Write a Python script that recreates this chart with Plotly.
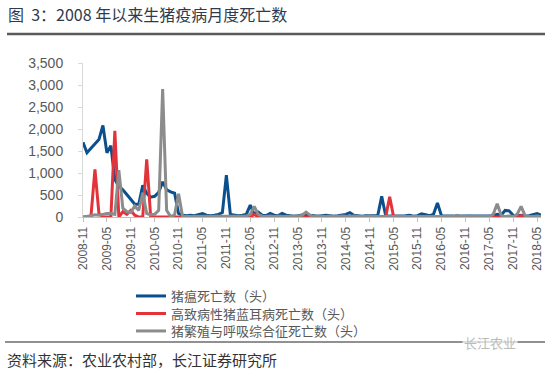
import plotly.graph_objects as go

# ---- data ----
months = []
y, m = 2008, 11
for _ in range(116):
    months.append(f"{y}-{m:02d}")
    m += 1
    if m > 12:
        m = 1
        y += 1

tick_labels = months[::6]

swine_fever = [
    1700, 1460, 1560, 1650, 1760, 2080, 1460, 1620, 850, 700,
    620, 510, 400, 290, 290, 720, 540, 450, 470, 560,
    800, 620, 570, 540, 80, 40, 30, 40, 30, 50,
    80, 40, 30, 40, 60, 100, 950, 60, 40, 30,
    40, 60, 270, 60, 110, 40, 30, 80, 40, 30,
    80, 40, 30, 20, 30, 40, 60, 40, 30, 20,
    30, 40, 30, 20, 30, 40, 60, 100, 40, 30,
    20, 30, 30, 20, 30, 470, 30, 20, 20, 30,
    20, 30, 40, 20, 30, 70, 50, 30, 60, 320,
    30, 20, 20, 20, 30, 20, 20, 20, 20, 20,
    30, 20, 20, 30, 60, 40, 150, 140, 40, 30,
    40, 20, 30, 60, 80, 40,
]

prrs_high = [
    0, 0, 20, 1080, 80, 0, 0, 0, 1960, 0,
    120, 60, 150, 40, 0, 0, 1310, 0, 0, 0,
    0, 0, 0, 0, 0, 0, 0, 0, 0, 0,
    0, 0, 0, 0, 0, 0, 0, 0, 0, 0,
    0, 0, 0, 60, 0, 0, 0, 0, 0, 0,
    0, 0, 0, 0, 0, 0, 0, 0, 0, 0,
    0, 0, 0, 0, 0, 0, 0, 0, 0, 0,
    0, 0, 0, 0, 0, 0, 0, 460, 0, 0,
    0, 0, 0, 0, 0, 0, 0, 0, 0, 0,
    0, 0, 0, 0, 0, 0, 0, 0, 0, 0,
    0, 0, 0, 0, 0, 0, 0, 0, 0, 0,
    30, 0, 0, 0, 0, 0,
]

prrs = [
    0, 10, 30, 50, 40, 60, 80, 80, 60, 1065,
    200, 120, 100, 250, 150, 550, 80, 50, 60, 150,
    2910, 150, 10, 50, 530, 10, 10, 10, 20, 10,
    10, 20, 10, 10, 20, 10, 20, 10, 10, 20,
    10, 20, 60, 240, 60, 20, 10, 20, 10, 20,
    10, 10, 20, 10, 20, 40, 110, 40, 10, 20,
    10, 10, 20, 10, 10, 20, 10, 10, 20, 10,
    10, 10, 20, 10, 10, 10, 20, 10, 10, 20,
    10, 10, 20, 10, 10, 10, 10, 20, 10, 10,
    20, 10, 10, 10, 40, 10, 10, 30, 10, 10,
    10, 20, 10, 60, 300, 40, 10, 20, 10, 60,
    240, 30, 10, 10, 20, 10,
]

names = ["猪瘟死亡数（头）", "高致病性猪蓝耳病死亡数（头）", "猪繁殖与呼吸综合征死亡数（头）"]
colors = ["#0B4F8C", "#E2333B", "#8C8C8C"]

FONT = "Liberation Sans, Noto Sans CJK SC, sans-serif"
W, H = 550, 369
L, R, T, B = 83, 9, 63, 152
PW, PH = W - L - R, H - T - B


def px_x(px):
    return (px - L) / PW


def px_y(py):
    return (H - B - py) / PH


legend_ids = ["legend", "legend2", "legend3"]
legend_tops = [281, 298.5, 316]

fig = go.Figure()
for name, vals, col, lid in zip(names, [swine_fever, prrs_high, prrs], colors, legend_ids):
    fig.add_trace(go.Scatter(x=months, y=vals, mode="lines", name=name, legend=lid,
                             line=dict(color=col, width=3)))

legend_style = dict(xref="container", yref="container", xanchor="left", yanchor="top",
                    font=dict(size=13, color="#595959", family="Noto Sans CJK SC"),
                    bgcolor="rgba(0,0,0,0)")
layout_legends = {}
for lid, top in zip(legend_ids, legend_tops):
    layout_legends[lid] = dict(legend_style, x=131 / W, y=1 - top / H)

fig.update_layout(
    width=W, height=H,
    margin=dict(l=L, r=R, t=T, b=B, autoexpand=False),
    paper_bgcolor="white", plot_bgcolor="white",
    font=dict(family=FONT, color="#595959"),
    showlegend=True,
    **layout_legends,
    xaxis=dict(type="category", range=[0, 115], tickmode="array",
               tickvals=tick_labels, ticktext=tick_labels, tickangle=-90,
               showline=True, linecolor="#BFBFBF", linewidth=1,
               ticks="outside", ticklen=4, tickcolor="#BFBFBF",
               showgrid=False, zeroline=False, automargin=False,
               tickfont=dict(size=12, color="#595959", family=FONT)),
    yaxis=dict(range=[0, 3500], tickmode="array",
               tickvals=[0, 500, 1000, 1500, 2000, 2500, 3000, 3500],
               ticktext=["0", "500", "1,000", "1,500", "2,000", "2,500", "3,000", "3,500"],
               showline=True, linecolor="#D9D9D9", linewidth=1,
               ticks="outside", ticklen=4, tickcolor="#D9D9D9",
               showgrid=False, zeroline=False, ticklabelstandoff=12, automargin=False,
               tickfont=dict(size=14, color="#595959", family=FONT)),
)

fig.add_annotation(xref="paper", yref="paper", x=px_x(6), y=px_y(14),
                   xanchor="left", yanchor="middle", showarrow=False,
                   text="图\u00a0\u00a03：2008 年以来生猪疫病月度死亡数",
                   font=dict(size=16, color="#2F3B4C", family="Noto Sans CJK SC"))
fig.add_shape(type="line", xref="paper", yref="paper",
              x0=px_x(7), x1=px_x(545), y0=px_y(34), y1=px_y(34),
              line=dict(color="#5A5A5A", width=2.5))
fig.add_shape(type="line", xref="paper", yref="paper",
              x0=px_x(5), x1=px_x(545), y0=px_y(342), y1=px_y(342),
              line=dict(color="#222222", width=1))
fig.add_annotation(xref="paper", yref="paper", x=px_x(5), y=px_y(359),
                   xanchor="left", yanchor="middle", showarrow=False,
                   text="资料来源：农业农村部，长江证券研究所",
                   font=dict(size=15, color="#333333", family="Noto Sans CJK SC"))
fig.add_annotation(xref="paper", yref="paper", x=px_x(518), y=px_y(342),
                   xanchor="right", yanchor="middle", showarrow=False,
                   text="长江农业", bgcolor="rgba(255,255,255,0.7)",
                   font=dict(size=13, color="#BBBBBB", family="Noto Sans CJK SC"))

fig.write_html("out.html", config={"displayModeBar": False},
               post_script="document.body.style.margin='0';document.body.style.padding='0';")
